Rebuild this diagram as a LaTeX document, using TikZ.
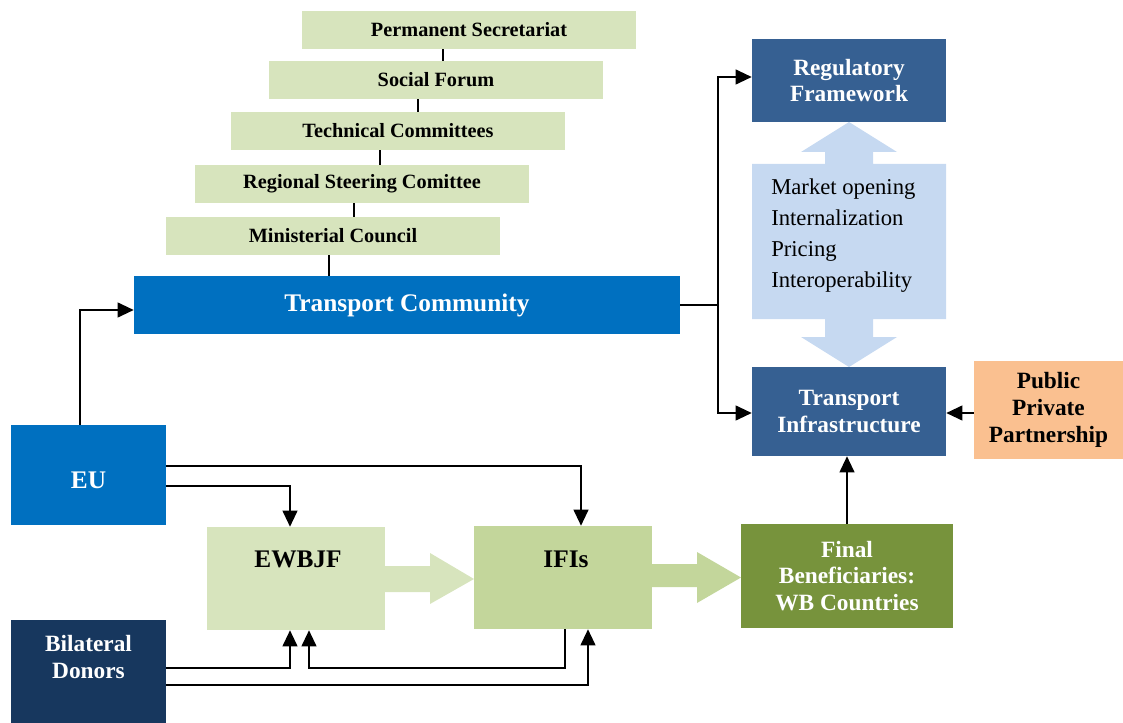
\documentclass[tikz,border=0pt]{standalone}
\usepackage{fontspec}
\setmainfont{Liberation Serif}
\usetikzlibrary{calc,arrows.meta}
\definecolor{tier}{HTML}{D7E4BD}
\definecolor{ifig}{HTML}{C3D69B}
\definecolor{fing}{HTML}{77933C}
\definecolor{blue1}{HTML}{0070C0}
\definecolor{blue2}{HTML}{366092}
\definecolor{navy}{HTML}{17375E}
\definecolor{lblue}{HTML}{C6D9F1}
\definecolor{peach}{HTML}{FAC090}
\tikzset{
  tierbox/.style={fill=tier,minimum width=250.5pt,minimum height=28.5pt,inner sep=0pt,font=\fontsize{15.2}{17}\selectfont\bfseries},
  darkbox/.style={inner sep=0pt,text=white,align=center,font=\fontsize{17.5}{20}\selectfont\bfseries},
  lightbox/.style={inner sep=0pt,text=black,align=center,font=\fontsize{17.5}{20}\selectfont\bfseries},
  lbl/.style={inner sep=0pt,align=center,font=\fontsize{17.5}{20.5}\selectfont\bfseries},
  conn/.style={line width=1.5pt},
  arr/.style={line width=1.5pt,-{Triangle[length=12pt,width=11pt]}},
}
\begin{document}
\begin{tikzpicture}[x=0.75pt,y=-0.75pt]
\useasboundingbox (0,0) rectangle (1123,723);
% tiers
\node[tierbox] (ps) at (469,30) {Permanent Secretariat};
\node[tierbox] (sf) at (436,80) {Social Forum};
\node[tierbox] (tcm) at (398,131) {Technical Committees};
\node[tierbox] (rsc) at (362,184) {Regional Steering Comittee};
\node[tierbox] (mc) at (333,236) {Ministerial Council};
\node[darkbox,fill=blue1,minimum width=409.5pt,minimum height=43.5pt,font=\fontsize{19}{22}\selectfont\bfseries] (tc) at (407,305) {Transport Community};
% right column
\node[darkbox,fill=blue2,minimum width=145.5pt,minimum height=62.25pt] (rf) at (849,80.5) {Regulatory\\Framework};
\fill[lblue] (825,164) -- (825,152) -- (801,152) -- (849,122) -- (897,152) -- (873,152) -- (873,164)
  -- (946,164) -- (946,319) -- (873,319) -- (873,337) -- (897,337) -- (849,367) -- (801,337)
  -- (825,337) -- (825,319) -- (752,319) -- (752,164) -- cycle;
\node[inner sep=0pt,anchor=base west,align=left,font=\fontsize{17}{23}\selectfont] (mkt) at (771,287)
  {Market opening\\Internalization\\Pricing\\Interoperability};
\node[darkbox,fill=blue2,minimum width=145.5pt,minimum height=66.75pt] (ti) at (849,411.5) {Transport\\Infrastructure};
\node[lightbox,fill=peach,minimum width=111.75pt,minimum height=73.5pt] (ppp) at (1048.5,410) {Public\\Private\\Partnership};
% bottom
\node[fill=blue1,minimum width=116.25pt,minimum height=75pt,inner sep=0pt] (eu) at (88.5,475) {};
\node[lbl,text=white,font=\fontsize{19}{22}\selectfont\bfseries] (eut) at (88.5,480) {EU};
\node[fill=navy,minimum width=116.25pt,minimum height=77.25pt,inner sep=0pt] (bd) at (88.5,671.5) {};
\node[lbl,text=white] (bdt) at (88.5,657) {Bilateral\\Donors};
\node[fill=tier,minimum width=133.5pt,minimum height=77.25pt,inner sep=0pt] (ewb) at (296,578.5) {};
\node[lbl,font=\fontsize{19}{22}\selectfont\bfseries] (ewbt) at (298,559) {EWBJF};
\node[fill=ifig,minimum width=133.5pt,minimum height=77.25pt,inner sep=0pt] (ifi) at (563,577.5) {};
\node[lbl,font=\fontsize{19}{22}\selectfont\bfseries] (ifit) at (566,559) {IFIs};
\node[darkbox,fill=fing,minimum width=159pt,minimum height=78pt] (fin) at (847,576) {Final\\Beneficiaries:\\WB Countries};
% fat arrows
\fill[tier] (385,566) -- (430,566) -- (430,553) -- (474,579) -- (430,604) -- (430,592) -- (385,592) -- cycle;
\fill[ifig] (652,564) -- (697,564) -- (697,552) -- (741,577.5) -- (697,603) -- (697,587) -- (652,587) -- cycle;
% tier connectors
\draw[conn] ($(ps.south)+(-26,0)$) -- ($(sf.north)+(7,0)$);
\draw[conn] ($(sf.south)+(-18,0)$) -- ($(tcm.north)+(20,0)$);
\draw[conn] ($(tcm.south)+(-18,0)$) -- ($(rsc.north)+(18,0)$);
\draw[conn] ($(rsc.south)+(-8,0)$) -- ($(mc.north)+(21,0)$);
\draw[conn] ($(mc.south)+(-4,0)$) -- ($(tc.north)+(-78,0)$);
% TC to right column
\coordinate (j) at (718,305);
\draw[conn] (tc.east) -- (j);
\draw[arr] (j) |- ($(rf.west)+(0,-3.5)$);
\draw[arr] (j) |- ($(ti.west)+(0,1.5)$);
\draw[arr] ($(ppp.west)+(0,3)$) -- ($(ti.east)+(0,1.5)$);
\draw[arr] (fin.north) -- (fin.north |- ti.south);
% EU / BD connectors
\draw[arr] ($(eu.north)+(-8.5,0)$) |- ($(tc.west)+(0,5)$);
\draw[arr] ($(eu.east)+(0,-9)$) -| ($(ifi.north)+(18,0)$);
\draw[arr] ($(eu.east)+(0,11)$) -| ($(ewb.north)+(-6,0)$);
\draw[arr] ($(bd.east)+(0,-3.5)$) -| ($(ewb.south)+(-6,0)$);
\draw[arr] ($(ifi.south)+(2,0)$) -- ++(0,39) -| ($(ewb.south)+(13,0)$);
\draw[arr] ($(bd.east)+(0,13.5)$) -| ($(ifi.south)+(25,0)$);
\end{tikzpicture}
\end{document}
